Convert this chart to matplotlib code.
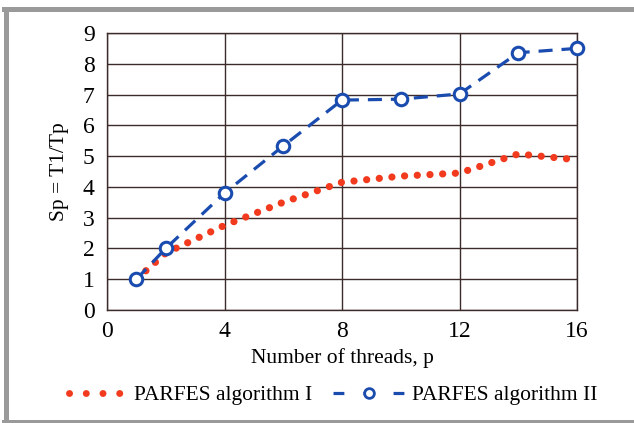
import numpy as np
import matplotlib
matplotlib.use('Agg')
import matplotlib.pyplot as plt
from matplotlib.lines import Line2D

# speedup vs number of threads
threads = [1, 2, 4, 6, 8, 10, 12, 14, 16]
speedup_I = [1.0, 1.85, 2.75, 3.5, 4.15, 4.35, 4.45, 5.07, 4.88]
speedup_II = [1.0, 2.0, 3.8, 5.33, 6.82, 6.85, 7.02, 8.36, 8.5]
label_I = 'PARFES algorithm I'
label_II = 'PARFES algorithm II'

red = '#f23a1e'
blue = '#1a4cb0'
gridcol = '#3d2b2b'

plt.rcParams['font.family'] = ['Liberation Serif', 'DejaVu Serif']

fig = plt.figure(figsize=(6.34, 4.23), dpi=100)
ax = fig.add_axes([107/634, 1-310/423, 470/634, 277/423])

ax.plot(threads, speedup_I, color=red, lw=5.2, linestyle=(0, (0.01, 1.75)),
        dash_capstyle='round', solid_capstyle='round', zorder=3, clip_on=False)
ax.plot(threads, speedup_II, color=blue, lw=2.3, linestyle=(0, (4.4, 2.8)),
        marker='o', ms=9, mfc='white', mec=blue, mew=2.2, zorder=4, clip_on=False)

ax.set_xlim(0, 16)
ax.set_ylim(0, 9)
ax.set_xticks([0, 4, 8, 12, 16])
ax.set_yticks(range(10))
ax.grid(True, color=gridcol, lw=1.0)
ax.set_axisbelow(True)
ax.tick_params(length=0, labelsize=17)
ax.tick_params(axis='y', pad=9)
ax.tick_params(axis='x', pad=8)
for s in ax.spines.values():
    s.set_color(gridcol)
    s.set_linewidth(1.0)

ax.set_xlabel('Number of threads, p', fontsize=15.5, labelpad=4)
ax.set_ylabel('Sp = T1/Tp', fontsize=15.5, labelpad=10)

# two separate legend entries so each handle gets its own length
h1 = Line2D([], [], color=red, lw=5.0, linestyle=(0, (0.01, 2.4)), dash_capstyle='round')
h2 = Line2D([], [], color=blue, lw=2.3, linestyle=(0, (3.4, 6.0)),
            marker='o', ms=7, mfc='white', mec=blue, mew=2.0)
leg1 = fig.legend([h1], [label_I], loc='center left', bbox_to_anchor=(69/634, 1-395/423),
                  frameon=False, fontsize=15.5, handlelength=2.5, borderpad=0,
                  borderaxespad=0, handletextpad=0.5)
leg2 = fig.legend([h2], [label_II], loc='center left', bbox_to_anchor=(333/634, 1-395/423),
                  frameon=False, fontsize=15.5, handlelength=3.3, numpoints=1, borderpad=0,
                  borderaxespad=0, handletextpad=0.35)

# gray frame around the picture
frame = '#9a9a9a'
fig.add_artist(Line2D([5.5/634, 5.5/634], [1-9.5/423, 1-421.5/423], color=frame, lw=3.6))
fig.add_artist(Line2D([3.5/634, 1.0], [1-9.5/423, 1-9.5/423], color=frame, lw=3.6))
fig.add_artist(Line2D([3.5/634, 1.0], [1-421.5/423, 1-421.5/423], color=frame, lw=3.6))

fig.savefig('out.png', dpi=100)
